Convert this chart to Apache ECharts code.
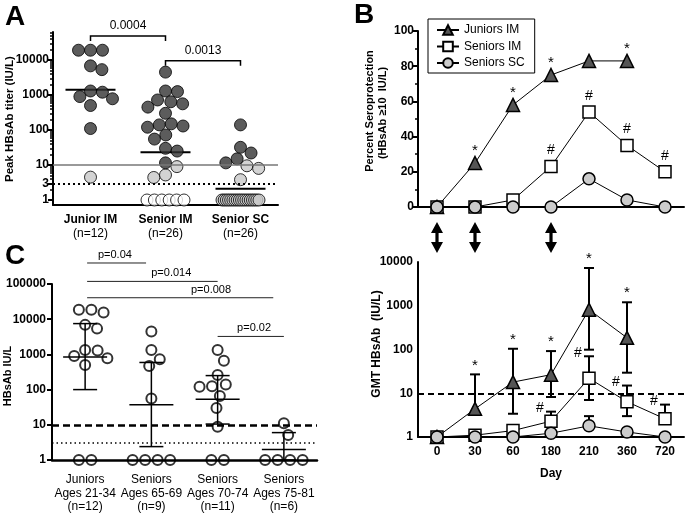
<!DOCTYPE html>
<html><head><meta charset="utf-8">
<script src="https://cdn.jsdelivr.net/npm/echarts@6/dist/echarts.min.js"></script>
<style>html,body{margin:0;padding:0;background:#fff}#c{width:685px;height:514px}</style>
</head><body><div id="c"></div>
<script>
// ---------- Panel A data ----------
const aCategories = ['Junior IM', 'Senior IM', 'Senior SC'];
const aCounts = ['(n=12)', '(n=26)', '(n=26)'];
const aDark = [
  [19000, 19000, 19000, 6800, 5300, 1300, 1200, 900, 780, 500, 110],
  [4500, 1300, 1250, 720, 640, 560, 450, 300, 150, 140, 130, 120, 72, 55, 30, 25, 11.5],
  [140, 32, 22, 15, 11.5]
];
const aLight = [
  [4.5],
  [9, 5.2, 4.4],
  [9.5, 8, 3.8, 1, 1, 1, 1, 1, 1, 1, 1, 1, 1, 1, 1, 1, 1, 1, 1, 1, 1]
];
const aWhite = [[], [1, 1, 1, 1, 1, 1], []];
const aMedian = [1400, 23, 2.1];
const aYTicks = [1, 3, 10, 100, 1000, 10000];
const aSig = [
  { from: 0, to: 1, y: 48500, text: '0.0004' },
  { from: 1, to: 2, y: 9550, text: '0.0013' }
];

// ---------- Panel B / D data ----------
const days = ['0', '30', '60', '180', '210', '360', '720'];
const seroJuniorsIM = [0, 25, 58, 75, 83, 83, null];
const seroSeniorsIM = [0, 0, 4, 23, 54, 35, 20];
const seroSeniorsSC = [0, 0, 0, 0, 16, 4, 0];
const seroStarIdx = [1, 2, 3, 5];
const seroHashIdx = [3, 4, 5, 6];

const gmtJuniorsIM = [1, 4.4, 18, 26.6, 815, 185, null];
const gmtJuniorsLo = [null, null, 3.4, 8.2, 99, 29.5, null];
const gmtJuniorsHi = [null, 27, 104, 92, 7300, 1200, null];
const gmtSeniorsIM = [1, 1.1, 1.4, 2.3, 22, 6.4, 2.6];
const gmtSeniorsLo = [null, null, null, null, 7.0, 3.0, null];
const gmtSeniorsHi = [null, null, 1.7, 3.8, 70, 15, 5.5];
const gmtSeniorsSC = [1, 1, 1, 1.22, 1.8, 1.3, 1];
const gmtSCLo = [null, null, null, null, null, null, null];
const gmtSCHi = [null, null, null, null, 3.0, null, null];
const gmtStarIdx = [1, 2, 3, 4, 5];
const gmtHashIdx = [3, 4, 5, 6];
const vaccineDayIdx = [0, 1, 3];
const gmtYTicks = [1, 10, 100, 1000, 10000];

// ---------- Panel C data ----------
const cCategories = ['Juniors\nAges 21-34\n(n=12)', 'Seniors\nAges 65-69\n(n=9)', 'Seniors\nAges 70-74\n(n=11)', 'Seniors\nAges 75-81\n(n=6)'];
const cValues = [
  [18500, 18500, 15500, 6900, 5400, 1340, 1300, 900, 780, 500, 1, 1],
  [4460, 1340, 730, 470, 56, 1, 1, 1, 1],
  [1340, 660, 260, 140, 125, 120, 66, 30, 8.8, 1, 1],
  [11, 5.1, 1, 1, 1, 1]
];
const cMedian = [850, 37, 53, 2];
const cQ1 = [100, 2.4, 10.5, 1];
const cQ3 = [7500, 590, 250, 6];
const cYTicks = [1, 10, 100, 1000, 10000, 100000];
const cSig = [
  { from: 0.03, to: 0.92, y: 395000, tx: 0.45, text: 'p=0.04' },
  { from: 0.03, to: 2.0, y: 118600, tx: 1.3, text: 'p=0.014' },
  { from: 0.03, to: 2.84, y: 40700, tx: 1.9, text: 'p=0.008' },
  { from: 2.0, to: 3.0, y: 3240, tx: 2.55, text: 'p=0.02' }
];

// ---------- helpers ----------
const F = '"Liberation Sans", Arial, Helvetica, sans-serif';
const plain = v => String(+(+v).toPrecision(6));
function minorLog(maxDec, maxV) {
  const out = [];
  for (let d = 0; d <= maxDec; d++) for (let m = 2; m <= 9; m++) { const v = m * Math.pow(10, d); if (v <= maxV) out.push(v); }
  return out;
}
// deterministic beeswarm: returns x offsets (px) for values in a column
function swarm(vals, dPx, pxDec, maxW) {
  const n = vals.length;
  const ys = vals.map(v => Math.log10(v) * pxDec);
  const xs = new Array(n);
  const order = vals.map((v, i) => i).sort((a, b) => vals[b] - vals[a] || a - b);
  const groups = {};
  vals.forEach((v, i) => { (groups[v] = groups[v] || []).push(i); });
  const placed = [];
  const done = {};
  order.forEach(i => {
    if (done[i]) return;
    const g = groups[vals[i]];
    if (g.length > 1) {
      const s = Math.min(dPx, maxW / (g.length - 1));
      g.forEach((j, k) => { xs[j] = (k - (g.length - 1) / 2) * s; placed.push(j); done[j] = 1; });
      return;
    }
    const cands = [0];
    placed.forEach(j => {
      const dy = ys[i] - ys[j];
      if (Math.abs(dy) < dPx) { const dx = Math.sqrt(dPx * dPx - dy * dy); cands.push(xs[j] + dx, xs[j] - dx); }
    });
    cands.sort((a, b) => Math.abs(a) - Math.abs(b) || b - a);
    xs[i] = cands[cands.length - 1];
    for (const c of cands) {
      if (placed.every(j => Math.hypot(c - xs[j], ys[i] - ys[j]) >= dPx - 0.01)) { xs[i] = c; break; }
    }
    placed.push(i); done[i] = 1;
  });
  return xs;
}

// Panel A points with swarm offsets
const aPxUnit = 75, aPxDec = 35;
const aPts = { dark: [], light: [], white: [] };
aCategories.forEach((c, g) => {
  const all = [];
  aDark[g].forEach(v => all.push({ v, t: 'dark' }));
  aLight[g].forEach(v => all.push({ v, t: 'light' }));
  aWhite[g].forEach(v => all.push({ v, t: 'white' }));
  const off = swarm(all.map(p => p.v), 12, aPxDec, 37);
  all.forEach((p, k) => aPts[p.t].push([g + off[k] / aPxUnit, p.v]));
});
// Panel C points
const cPxUnit = 66.25, cPxDec = 35.15;
const cPts = [];
cValues.forEach((arr, g) => {
  const off = swarm(arr, 12.5, cPxDec, 40);
  arr.forEach((v, k) => cPts.push([g + off[k] / cPxUnit, v]));
});

const chart = echarts.init(document.getElementById('c'), null, { renderer: 'canvas' });

const lbl = { fontFamily: F, fontSize: 12, fontWeight: 'bold', color: '#000' };
const axLine = { show: true, onZero: false, lineStyle: { color: '#000', width: 2 } };

const option = {
  backgroundColor: '#fff',
  animation: false,
  textStyle: { fontFamily: F },
  grid: [
    { left: 53, top: 32, width: 225, height: 173 },
    { left: 418, top: 31, width: 266, height: 176 },
    { left: 52, top: 284, width: 265, height: 176 },
    { left: 418, top: 262, width: 266, height: 175 }
  ],
  legend: {
    data: ['Juniors IM', 'Seniors IM', 'Seniors SC'],
    orient: 'vertical', left: 428, top: 19,
    borderColor: '#000', borderWidth: 1, padding: [5, 10, 4, 8],
    itemWidth: 22, itemHeight: 12, itemGap: 4.5,
    textStyle: { fontFamily: F, fontSize: 12, color: '#000' }
  },
  xAxis: [
    { gridIndex: 0, type: 'category', data: aCategories, boundaryGap: true, position: 'bottom',
      axisLine: { onZero: false, lineStyle: { color: '#000', width: 2 } },
      axisTick: { alignWithLabel: true, length: 5, lineStyle: { width: 2 } },
      axisLabel: { margin: 8, interval: 0,
        formatter: (v, i) => '{b|' + v + '}\n{n|' + aCounts[i] + '}',
        rich: { b: { fontFamily: F, fontSize: 12, fontWeight: 'bold', lineHeight: 13.5, color: '#000' },
                n: { fontFamily: F, fontSize: 12, lineHeight: 13.5, color: '#000' } } } },
    { gridIndex: 0, type: 'value', min: -0.5, max: 2.5, show: false },
    { gridIndex: 1, type: 'category', data: days, boundaryGap: true, position: 'bottom',
      axisLine: { onZero: false, lineStyle: { color: '#000', width: 2 } },
      axisTick: { alignWithLabel: true, length: 5, lineStyle: { width: 2 } },
      axisLabel: { show: false } },
    { gridIndex: 2, type: 'category', data: cCategories, boundaryGap: true, position: 'bottom',
      axisLine: { onZero: false, lineStyle: { color: '#000', width: 2.5 } },
      axisTick: { show: false },
      axisLabel: { margin: 13, interval: 0, fontFamily: F, fontSize: 12, lineHeight: 13.5, color: '#000' } },
    { gridIndex: 2, type: 'value', min: -0.5, max: 3.5, show: false },
    { gridIndex: 3, type: 'category', data: days, boundaryGap: true, position: 'bottom',
      name: 'Day', nameLocation: 'middle', nameGap: 31,
      nameTextStyle: { fontFamily: F, fontSize: 12, fontWeight: 'bold', color: '#000' },
      axisLine: { onZero: false, lineStyle: { color: '#000', width: 2 } },
      axisTick: { alignWithLabel: true, length: 5, lineStyle: { width: 2 } },
      axisLabel: Object.assign({ margin: 9, interval: 0 }, lbl) }
  ],
  yAxis: [
    { gridIndex: 0, type: 'log', min: 0.72, max: 63000, position: 'left',
      axisLine: axLine, splitLine: { show: false },
      axisTick: { length: 5, lineStyle: { width: 2 }, customValues: aYTicks },
      axisLabel: Object.assign({ margin: 4, customValues: aYTicks, formatter: plain }, lbl) },
    { gridIndex: 0, type: 'log', min: 0.72, max: 63000, position: 'left',
      axisLine: { show: false, onZero: false }, splitLine: { show: false }, axisLabel: { show: false },
      axisTick: { length: 3, lineStyle: { width: 1.5, color: '#000' }, customValues: minorLog(4, 63000).filter(v => v !== 3) } },
    { gridIndex: 1, type: 'value', min: 0, max: 100, interval: 20, position: 'left',
      axisLine: axLine, splitLine: { show: false },
      axisTick: { show: true, length: 5, lineStyle: { width: 2 } },
      minorTick: { show: true, splitNumber: 2, length: 3, lineStyle: { width: 1.5, color: '#000' } },
      minorSplitLine: { show: false },
      axisLabel: Object.assign({ margin: 4 }, lbl) },
    { gridIndex: 2, type: 'log', min: 1, max: 100000, position: 'left',
      axisLine: axLine, splitLine: { show: false },
      axisTick: { length: 5, lineStyle: { width: 2 }, customValues: cYTicks },
      axisLabel: Object.assign({ margin: 6, customValues: cYTicks, formatter: plain }, lbl) },
    { gridIndex: 3, type: 'log', min: 1, max: 10000, position: 'left',
      axisLine: axLine, splitLine: { show: false },
      axisTick: { length: 5, lineStyle: { width: 2 }, customValues: gmtYTicks },
      axisLabel: Object.assign({ margin: 5, customValues: gmtYTicks, formatter: plain }, lbl) },
    { gridIndex: 3, type: 'log', min: 1, max: 10000, position: 'left',
      axisLine: { show: false, onZero: false }, splitLine: { show: false }, axisLabel: { show: false },
      axisTick: { length: 3, lineStyle: { width: 1.5, color: '#000' }, customValues: minorLog(3, 10000) } }
  ],
  graphic: [
    { type: 'text', left: 5, top: 3, style: { text: 'A', font: 'bold 28px ' + F, fill: '#000' } },
    { type: 'text', left: 354, top: 1, style: { text: 'B', font: 'bold 28px ' + F, fill: '#000' } },
    { type: 'text', left: 5, top: 242, style: { text: 'C', font: 'bold 28px ' + F, fill: '#000' } },
    { type: 'text', x: 10, y: 119, rotation: Math.PI / 2,
      style: { text: 'Peak HBsAb titer (IU/L)', font: 'bold 11.5px ' + F, fill: '#000', textAlign: 'center', textVerticalAlign: 'middle' } },
    { type: 'text', x: 370, y: 111, rotation: Math.PI / 2,
      style: { text: 'Percent Seroprotection', font: 'bold 11px ' + F, fill: '#000', textAlign: 'center', textVerticalAlign: 'middle' } },
    { type: 'text', x: 383, y: 113, rotation: Math.PI / 2,
      style: { text: '(HBsAb \u226510  IU/L)', font: 'bold 11px ' + F, fill: '#000', textAlign: 'center', textVerticalAlign: 'middle' } },
    { type: 'text', x: 8, y: 376, rotation: Math.PI / 2,
      style: { text: 'HBsAb IU/L', font: 'bold 11px ' + F, fill: '#000', textAlign: 'center', textVerticalAlign: 'middle' } },
    { type: 'text', x: 377, y: 344, rotation: Math.PI / 2,
      style: { text: 'GMT HBsAb  (IU/L)', font: 'bold 12px ' + F, fill: '#000', textAlign: 'center', textVerticalAlign: 'middle' } }
  ],
  series: []
};

const S = option.series;
const ptStyle = c => ({ color: c, borderColor: '#000', borderWidth: 1 });
// ---- Panel A ----
S.push({ type: 'custom', xAxisIndex: 1, yAxisIndex: 0, z: 3,
  data: aMedian.map((v, i) => [i, v]),
  renderItem: (p, api) => { const c = api.coord([api.value(0), api.value(1)]);
    return { type: 'line', shape: { x1: c[0] - 25, y1: c[1], x2: c[0] + 25, y2: c[1] }, style: { stroke: '#000', lineWidth: 2 } }; },
  markLine: { silent: true, symbol: 'none', label: { show: false },
    data: [ { yAxis: 10, lineStyle: { color: '#777', width: 1.5, type: 'solid' } },
            { yAxis: 3, lineStyle: { color: '#000', width: 2, type: [2, 3] } } ] } });
S.push({ type: 'scatter', xAxisIndex: 1, yAxisIndex: 0, symbolSize: 12, data: aPts.white, itemStyle: ptStyle('#fff'), z: 4 });
S.push({ type: 'scatter', xAxisIndex: 1, yAxisIndex: 0, symbolSize: 12, data: aPts.light, itemStyle: ptStyle('#c8c8c8'), z: 4 });
S.push({ type: 'scatter', xAxisIndex: 1, yAxisIndex: 0, symbolSize: 12, data: aPts.dark, itemStyle: ptStyle('#333'), z: 4 });
S.push({ type: 'custom', xAxisIndex: 1, yAxisIndex: 0, z: 5,
  data: aSig.map(s => [s.from, s.to, s.y]),
  renderItem: (p, api) => {
    const s = aSig[p.dataIndex];
    const a = api.coord([s.from, s.y]), b = api.coord([s.to, s.y]);
    return { type: 'group', children: [
      { type: 'polyline', shape: { points: [[a[0], a[1] + 5], [a[0], a[1]], [b[0], b[1]], [b[0], b[1] + 5]] }, style: { stroke: '#000', lineWidth: 1.5, fill: null } },
      { type: 'text', x: (a[0] + b[0]) / 2, y: a[1] - 10, style: { text: s.text, font: '12px ' + F, fill: '#000', textAlign: 'center', textVerticalAlign: 'middle' } }
    ] };
  } });

// ---- Panel B ----
const lineBase = (name, data, sym, fill, xi, yi) => ({
  type: 'line', name, data, xAxisIndex: xi, yAxisIndex: yi, symbol: sym, symbolSize: sym === 'triangle' ? 13 : 12,
  lineStyle: { color: '#000', width: 1 }, itemStyle: { color: fill, borderColor: '#000', borderWidth: 1.5 }, z: 4
});
S.push(lineBase('Juniors IM', seroJuniorsIM, 'triangle', '#555', 2, 2));
S.push(lineBase('Seniors IM', seroSeniorsIM, 'rect', '#fff', 2, 2));
S.push(lineBase('Seniors SC', seroSeniorsSC, 'circle', '#ccc', 2, 2));
const textItem = (x, y, t, size) => ({ type: 'text', x, y, style: { text: t, font: size + 'px ' + F, fill: '#000', textAlign: 'center', textVerticalAlign: 'middle' } });
S.push({ type: 'custom', xAxisIndex: 2, yAxisIndex: 2, z: 5,
  data: seroStarIdx.map(i => [i, seroJuniorsIM[i]]),
  renderItem: (p, api) => { const c = api.coord([api.value(0), api.value(1)]); return textItem(c[0], c[1] - 12, '*', 15); } });
S.push({ type: 'custom', xAxisIndex: 2, yAxisIndex: 2, z: 5,
  data: seroHashIdx.map(i => [i, seroSeniorsIM[i]]),
  renderItem: (p, api) => { const c = api.coord([api.value(0), api.value(1)]); return textItem(c[0], c[1] - 16, '#', 14); } });

// ---- Panel C ----
S.push({ type: 'custom', xAxisIndex: 4, yAxisIndex: 3, z: 3,
  data: cMedian.map((m, i) => [i, m, cQ1[i], cQ3[i]]),
  renderItem: (p, api) => {
    const x = api.value(0);
    const m = api.coord([x, api.value(1)]), lo = api.coord([x, api.value(2)]), hi = api.coord([x, api.value(3)]);
    const st = { stroke: '#000', lineWidth: 1.5 };
    return { type: 'group', children: [
      { type: 'line', shape: { x1: m[0], y1: lo[1], x2: m[0], y2: hi[1] }, style: st },
      { type: 'line', shape: { x1: m[0] - 12, y1: lo[1], x2: m[0] + 12, y2: lo[1] }, style: st },
      { type: 'line', shape: { x1: m[0] - 12, y1: hi[1], x2: m[0] + 12, y2: hi[1] }, style: st },
      { type: 'line', shape: { x1: m[0] - 22, y1: m[1], x2: m[0] + 22, y2: m[1] }, style: st }
    ] };
  },
  markLine: { silent: true, symbol: 'none', label: { show: false },
    data: [ { yAxis: 10, lineStyle: { color: '#000', width: 2.5, type: [7, 4] } },
            { yAxis: 3, lineStyle: { color: '#000', width: 1.5, type: [1.5, 3] } } ] } });
S.push({ type: 'scatter', xAxisIndex: 4, yAxisIndex: 3, symbolSize: 10, data: cPts,
  itemStyle: { color: 'rgba(0,0,0,0)', borderColor: '#000', borderWidth: 2 }, z: 4 });
S.push({ type: 'custom', xAxisIndex: 4, yAxisIndex: 3, z: 5,
  data: cSig.map(s => [s.from, s.to, s.y]),
  renderItem: (p, api) => {
    const s = cSig[p.dataIndex];
    const a = api.coord([s.from, s.y]), b = api.coord([s.to, s.y]), t = api.coord([s.tx, s.y]);
    return { type: 'group', children: [
      { type: 'line', shape: { x1: a[0], y1: a[1], x2: b[0], y2: b[1] }, style: { stroke: '#222', lineWidth: 1 } },
      { type: 'text', x: t[0], y: t[1] - 8, style: { text: s.text, font: '11px ' + F, fill: '#000', textAlign: 'center', textVerticalAlign: 'middle' } }
    ] };
  } });

// ---- Panel D ----
const errSeries = (vals, lo, hi) => ({ type: 'custom', xAxisIndex: 5, yAxisIndex: 4, z: 3,
  data: vals.map((v, i) => [i, v, lo[i] == null ? v : lo[i], hi[i] == null ? v : hi[i]]).filter(r => r[1] != null),
  renderItem: (p, api) => {
    const x = api.value(0);
    const a = api.coord([x, api.value(2)]), b = api.coord([x, api.value(3)]);
    const st = { stroke: '#000', lineWidth: 2 };
    const ch = [{ type: 'line', shape: { x1: a[0], y1: a[1], x2: b[0], y2: b[1] }, style: st }];
    if (api.value(3) !== api.value(1)) ch.push({ type: 'line', shape: { x1: b[0] - 5, y1: b[1], x2: b[0] + 5, y2: b[1] }, style: st });
    if (api.value(2) !== api.value(1)) ch.push({ type: 'line', shape: { x1: a[0] - 5, y1: a[1], x2: a[0] + 5, y2: a[1] }, style: st });
    return { type: 'group', children: ch };
  } });
S.push(errSeries(gmtJuniorsIM, gmtJuniorsLo, gmtJuniorsHi));
S.push(errSeries(gmtSeniorsIM, gmtSeniorsLo, gmtSeniorsHi));
S.push(errSeries(gmtSeniorsSC, gmtSCLo, gmtSCHi));
const dJ = lineBase('Juniors IM', gmtJuniorsIM, 'triangle', '#555', 5, 4);
dJ.markLine = { silent: true, symbol: 'none', label: { show: false },
  data: [{ yAxis: 10, lineStyle: { color: '#000', width: 2, type: [6, 4] } }] };
S.push(dJ);
S.push(lineBase('Seniors IM', gmtSeniorsIM, 'rect', '#fff', 5, 4));
S.push(lineBase('Seniors SC', gmtSeniorsSC, 'circle', '#ccc', 5, 4));
S.push({ type: 'custom', xAxisIndex: 5, yAxisIndex: 4, z: 5,
  data: gmtStarIdx.map(i => [i, gmtJuniorsHi[i]]),
  renderItem: (p, api) => { const c = api.coord([api.value(0), api.value(1)]); return textItem(c[0], c[1] - 9, '*', 15); } });
S.push({ type: 'custom', xAxisIndex: 5, yAxisIndex: 4, z: 5,
  data: gmtHashIdx.map(i => [i, gmtSeniorsHi[i]]),
  renderItem: (p, api) => { const c = api.coord([api.value(0), api.value(1)]); return textItem(c[0] - 11, c[1] - 3, '#', 14); } });
S.push({ type: 'custom', xAxisIndex: 5, yAxisIndex: 4, z: 5,
  data: vaccineDayIdx.map(i => [i, 10000]),
  renderItem: (p, api) => {
    const c = api.coord([api.value(0), api.value(1)]);
    const x = c[0], t = c[1] - 40, b = c[1] - 9, w = 6, h = 11, s = 1.6;
    return { type: 'polygon', shape: { points: [[x, t], [x + w, t + h], [x + s, t + h], [x + s, b - h], [x + w, b - h], [x, b], [x - w, b - h], [x - s, b - h], [x - s, t + h], [x - w, t + h]] },
      style: { fill: '#000' } };
  } });

chart.setOption(option);
</script></body></html>
